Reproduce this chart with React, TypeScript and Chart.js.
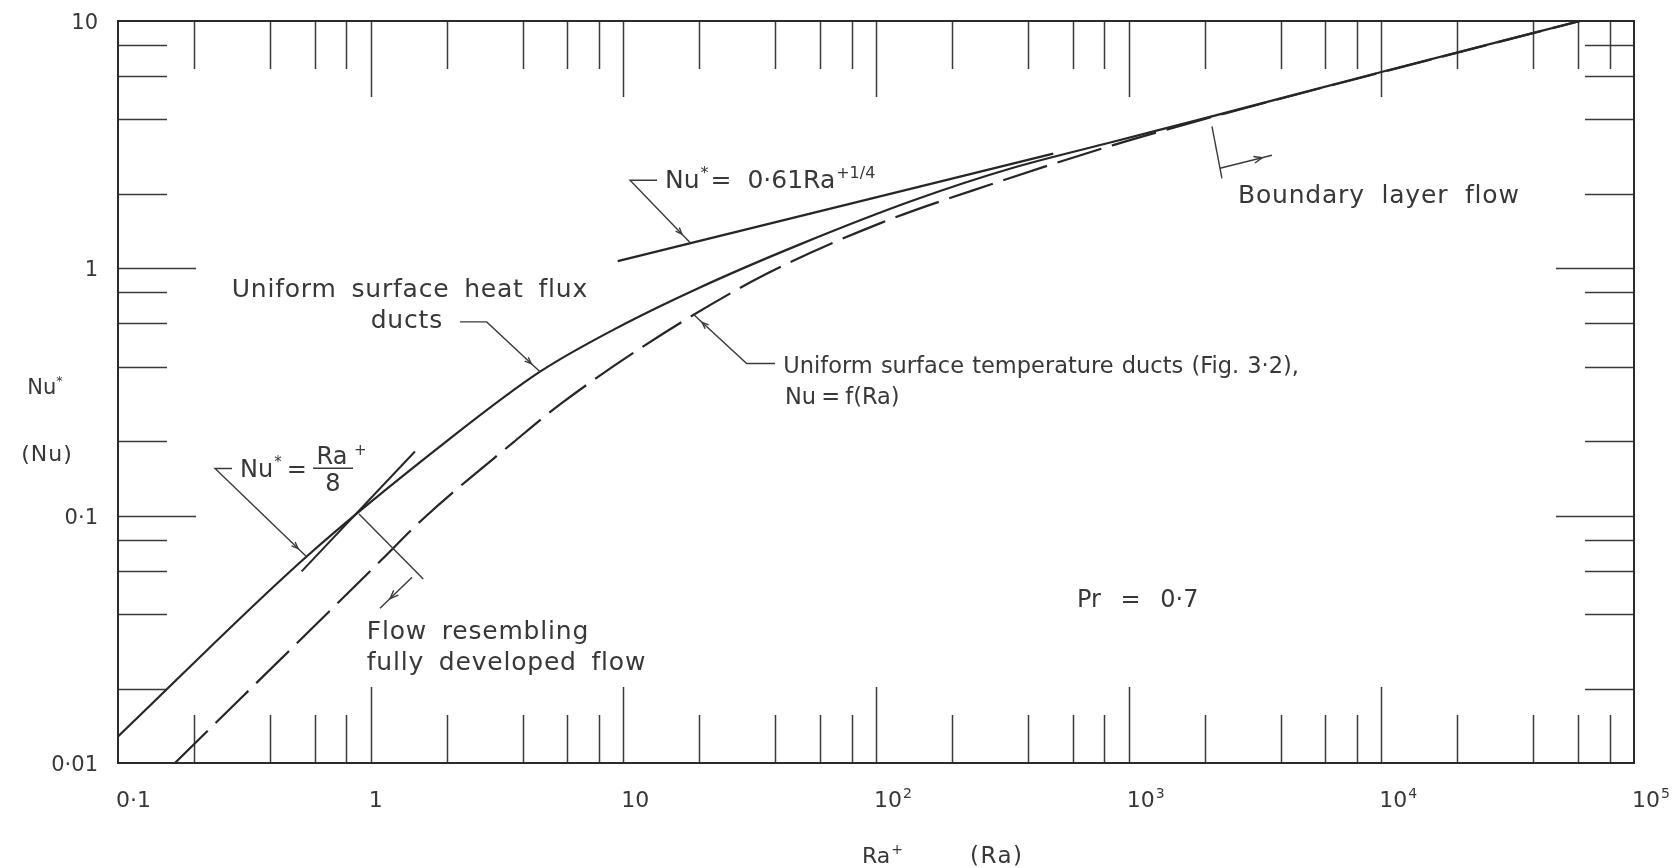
import React, { useEffect, useRef } from 'react';
import { Chart, registerables } from 'chart.js';

Chart.register(...registerables);

// ---------------- data ----------------
// Uniform surface heat flux ducts (solid curve)
const heatFluxRa = [0.1, 0.558, 2.03, 4.68, 9.12, 20, 50, 140, 349, 869, 1972, 10000, 61200];
const heatFluxNu = [0.0128, 0.0684, 0.2025, 0.382, 0.564, 0.835, 1.25, 1.88, 2.55, 3.25, 4.03, 6.22, 10];
// Uniform surface temperature ducts (dashed curve)
const tempRa = [0.168, 1.1, 1.61, 3.67, 5.7, 14.4, 36.9, 103.6, 291, 869, 1972, 10000, 61200];
const tempNu = [0.01, 0.066, 0.097, 0.198, 0.285, 0.545, 0.95, 1.52, 2.2, 3.15, 4.0, 6.2, 10];
// Nu* = 0.61 Ra*^(1/4) asymptote segment
const blRa = [9.5, 503];
const blNu = [1.07, 2.91];
// Nu* = Ra*/8 asymptote segment
const fdRa = [0.533, 1.497];
const fdNu = [0.0595, 0.1817];

// axes
const xMin = 0.1;
const xMax = 100000;
const yMin = 0.01;
const yMax = 10;
const xTickValues = [0.1, 1, 10, 100, 1000, 10000, 100000];
const xTickBase = ['0·1', '1', '10', '10', '10', '10', '10'];
const xTickExp = ['', '', '', '2', '3', '4', '5'];
const yTickValues = [10, 1, 0.1, 0.01];
const yTickLabels = ['10', '1', '0·1', '0·01'];
const minorMultipliers = [2, 4, 6, 8];

// annotation anchors, in data coordinates (Ra, Nu)
const leaderRa14: [number, number][] = [[13.59, 2.271], [10.63, 2.271], [18.4, 1.27]];
const leaderRa8: [number, number][] = [[0.2826, 0.1552], [0.2421, 0.1552], [0.558, 0.0682]];
const leaderHeat: [number, number][] = [[2.258, 0.6074], [2.879, 0.6074], [4.68, 0.3815]];
const leaderTemp: [number, number][] = [[39.83, 0.4125], [30.77, 0.4125], [18.92, 0.652]];
const blTick: [number, number][] = [[2136, 3.753], [2340, 2.313]];
const blArrow: [number, number][] = [[2298, 2.539], [3691, 2.865]];
const fdTick: [number, number][] = [[0.899, 0.1015], [1.615, 0.0554]];
const fdArrow: [number, number][] = [[1.458, 0.0564], [1.089, 0.0422]];

const txtRa14: [number, number] = [14.62, 2.108];
const txtRa8: [number, number] = [0.304, 0.1436];
const txtHeat1: [number, number] = [0.2818, 0.766];
const txtHeat2: [number, number] = [1.933, 0.5712];
const txtTemp1: [number, number] = [42.96, 0.3758];
const txtTemp2: [number, number] = [43.63, 0.2825];
const txtBL: [number, number] = [2707, 1.834];
const txtFD1: [number, number] = [0.9645, 0.0317];
const txtFD2: [number, number] = [0.9645, 0.02376];
const txtPr: [number, number] = [624.6, 0.0427];

// ---------------- drawing helpers ----------------
const FONT = '"DejaVu Sans", "Liberation Sans", sans-serif';
const INK = '#262626';
const TEXT = '#383838';

type Part = { t: string; sup?: boolean; gap?: number };

function setSpacing(ctx: CanvasRenderingContext2D, word: number, letter: number) {
  (ctx as any).wordSpacing = `${word}px`;
  (ctx as any).letterSpacing = `${letter}px`;
}

function drawParts(
  ctx: CanvasRenderingContext2D,
  x: number,
  y: number,
  parts: Part[],
  size: number,
  align: 'left' | 'right' | 'center' = 'left',
  wordSp = 0,
  letterSp = 0
) {
  const segs = parts.map((p) => {
    const s = p.sup ? Math.round(size * 0.62) : size;
    ctx.font = `${s}px ${FONT}`;
    setSpacing(ctx, p.sup ? 0 : wordSp, p.sup ? 0 : letterSp);
    return { ...p, s, w: ctx.measureText(p.t).width };
  });
  const total = segs.reduce((a, b) => a + b.w + (b.gap || 0), 0);
  let cx = align === 'left' ? x : align === 'right' ? x - total : x - total / 2;
  ctx.textAlign = 'left';
  ctx.textBaseline = 'alphabetic';
  for (const p of segs) {
    ctx.font = `${p.s}px ${FONT}`;
    setSpacing(ctx, p.sup ? 0 : wordSp, p.sup ? 0 : letterSp);
    ctx.fillText(p.t, cx, p.sup ? y - size * 0.42 : y);
    cx += p.w + (p.gap || 0);
  }
  setSpacing(ctx, 0, 0);
}

function arrowHead(
  ctx: CanvasRenderingContext2D,
  from: [number, number],
  to: [number, number],
  back: number,
  size: number
) {
  const dx = to[0] - from[0];
  const dy = to[1] - from[1];
  const L = Math.hypot(dx, dy) || 1;
  const ux = dx / L;
  const uy = dy / L;
  const px = to[0] - ux * back;
  const py = to[1] - uy * back;
  const a = 0.38;
  const rot = (ang: number): [number, number] => [
    -(ux * Math.cos(ang) - uy * Math.sin(ang)) * size,
    -(ux * Math.sin(ang) + uy * Math.cos(ang)) * size,
  ];
  const r1 = rot(a);
  const r2 = rot(-a);
  ctx.beginPath();
  ctx.moveTo(px + r1[0], py + r1[1]);
  ctx.lineTo(px, py);
  ctx.lineTo(px + r2[0], py + r2[1]);
  ctx.stroke();
}

const overlay = {
  id: 'overlay',
  beforeDraw(chart: any) {
    const ctx = chart.ctx as CanvasRenderingContext2D;
    ctx.save();
    ctx.fillStyle = '#ffffff';
    ctx.fillRect(0, 0, chart.width, chart.height);
    ctx.restore();
  },
  beforeDatasetsDraw(chart: any) {
    const ctx = chart.ctx as CanvasRenderingContext2D;
    const { left, right, top, bottom } = chart.chartArea;
    const xs = chart.scales.x;
    const ys = chart.scales.y;
    ctx.save();
    ctx.strokeStyle = '#3a3a3a';
    ctx.lineWidth = 1.5;
    const MAJ = 76;
    const MIN = 48;
    // x ticks (top and bottom, inward)
    for (let d = -1; d <= 4; d++) {
      for (const m of [1, ...minorMultipliers]) {
        const v = m * Math.pow(10, d);
        if (v <= xMin * 1.0001 || v >= xMax * 0.9999) continue;
        const px = Math.round(xs.getPixelForValue(v)) + 0.5;
        const len = m === 1 ? MAJ : MIN;
        ctx.beginPath();
        ctx.moveTo(px, bottom);
        ctx.lineTo(px, bottom - len);
        ctx.moveTo(px, top);
        ctx.lineTo(px, top + len);
        ctx.stroke();
      }
    }
    // y ticks (left and right, inward)
    for (let d = -2; d <= 0; d++) {
      for (const m of [1, ...minorMultipliers]) {
        const v = m * Math.pow(10, d);
        if (v <= yMin * 1.0001 || v >= yMax * 0.9999) continue;
        const py = Math.round(ys.getPixelForValue(v)) + 0.5;
        const len = m === 1 ? MAJ + 2 : MIN + 1;
        ctx.beginPath();
        ctx.moveTo(left, py);
        ctx.lineTo(left + len, py);
        ctx.moveTo(right, py);
        ctx.lineTo(right - len, py);
        ctx.stroke();
      }
    }
    // frame
    ctx.strokeStyle = '#2a2a2a';
    ctx.lineWidth = 2;
    ctx.strokeRect(left, top, right - left, bottom - top);
    ctx.restore();
  },
  afterDraw(chart: any) {
    const ctx = chart.ctx as CanvasRenderingContext2D;
    const { left, bottom } = chart.chartArea;
    const xs = chart.scales.x;
    const ys = chart.scales.y;
    const P = (p: [number, number]): [number, number] => [xs.getPixelForValue(p[0]), ys.getPixelForValue(p[1])];
    ctx.save();
    ctx.fillStyle = TEXT;

    // y tick labels
    for (let i = 0; i < yTickValues.length; i++) {
      const py = ys.getPixelForValue(yTickValues[i]);
      drawParts(ctx, left - 20, py + 8, [{ t: yTickLabels[i] }], 21, 'right');
    }
    // x tick labels
    for (let i = 0; i < xTickValues.length; i++) {
      const px = xs.getPixelForValue(xTickValues[i]);
      const parts: Part[] = [{ t: xTickBase[i], gap: 1 }];
      if (xTickExp[i]) parts.push({ t: xTickExp[i], sup: true });
      drawParts(ctx, px - 2, bottom + 44, parts, 22, 'left');
    }
    // axis titles
    drawParts(ctx, 45, 394, [{ t: 'Nu' }, { t: '*', sup: true }], 21, 'center');
    drawParts(ctx, 47, 461, [{ t: '(Nu)' }], 22, 'center', 0, 1);
    drawParts(ctx, 862, bottom + 100, [{ t: 'Ra', gap: 1 }, { t: '+', sup: true }], 22, 'left');
    drawParts(ctx, 970, bottom + 100, [{ t: '(Ra)' }], 23, 'left', 0, 1.5);

    // leader lines & arrows
    ctx.strokeStyle = '#3a3a3a';
    ctx.lineWidth = 1.4;
    const poly = (pts: [number, number][]) => {
      ctx.beginPath();
      pts.forEach((p, i) => {
        const q = P(p);
        if (i === 0) ctx.moveTo(q[0], q[1]);
        else ctx.lineTo(q[0], q[1]);
      });
      ctx.stroke();
    };
    for (const L of [leaderRa14, leaderRa8, leaderHeat, leaderTemp]) {
      poly(L);
      arrowHead(ctx, P(L[1]), P(L[2]), 12, 7);
    }
    poly(blTick);
    poly(blArrow);
    arrowHead(ctx, P(blArrow[0]), P(blArrow[1]), 10, 9);
    poly(fdTick);
    poly(fdArrow);
    arrowHead(ctx, P(fdArrow[0]), P(fdArrow[1]), 14, 9);

    // annotation texts
    let q = P(txtRa14);
    drawParts(ctx, q[0], q[1], [
      { t: 'Nu', gap: 1 },
      { t: '*', sup: true, gap: 2 },
      { t: '=  0·61Ra', gap: 1 },
      { t: '+1/4', sup: true },
    ], 25, 'left');

    q = P(txtRa8);
    drawParts(ctx, q[0], q[1], [{ t: 'Nu', gap: 1 }, { t: '*', sup: true, gap: 5 }, { t: '=' }], 24, 'left');
    // fraction Ra+/8
    {
      const bx0 = q[0] + 73;
      const bx1 = q[0] + 113;
      const by = q[1] - 8.5;
      ctx.beginPath();
      ctx.moveTo(bx0, by);
      ctx.lineTo(bx1, by);
      ctx.lineWidth = 1.6;
      ctx.stroke();
      drawParts(ctx, (bx0 + bx1) / 2 - 1, by - 4, [{ t: 'Ra' }], 24, 'center');
      drawParts(ctx, bx1 + 1, by - 3, [{ t: '+', sup: true }], 24, 'left');
      drawParts(ctx, (bx0 + bx1) / 2, by + 23, [{ t: '8' }], 24, 'center');
    }

    q = P(txtHeat1);
    drawParts(ctx, q[0], q[1], [{ t: 'Uniform surface heat flux' }], 25, 'left', 6, 0.8);
    q = P(txtHeat2);
    drawParts(ctx, q[0], q[1], [{ t: 'ducts' }], 25, 'right', 0, 0.8);

    q = P(txtTemp1);
    drawParts(ctx, q[0], q[1], [{ t: 'Uniform surface temperature ducts (Fig. 3·2),' }], 22.5, 'left', 1, 0);
    q = P(txtTemp2);
    drawParts(ctx, q[0], q[1], [{ t: 'Nu = f(Ra)' }], 22.5, 'left', -2, 0);

    q = P(txtBL);
    drawParts(ctx, q[0], q[1], [{ t: 'Boundary layer flow' }], 25, 'left', 8, 0.8);

    q = P(txtFD1);
    drawParts(ctx, q[0], q[1], [{ t: 'Flow resembling' }], 25, 'left', 6, 0.8);
    q = P(txtFD2);
    drawParts(ctx, q[0], q[1], [{ t: 'fully developed flow' }], 25, 'left', 6, 0.8);

    q = P(txtPr);
    drawParts(ctx, q[0], q[1], [{ t: 'Pr = 0·7' }], 24, 'left', 12, 0);

    ctx.restore();
  },
};

const toPoints = (xs: number[], ys: number[]) => xs.map((x, i) => ({ x, y: ys[i] }));

export default function App() {
  const ref = useRef<HTMLCanvasElement>(null);
  useEffect(() => {
    const canvas = ref.current;
    if (!canvas) return;
    const chart = new Chart(canvas, {
      type: 'scatter',
      data: {
        datasets: [
          {
            label: 'Uniform surface heat flux ducts',
            data: toPoints(heatFluxRa, heatFluxNu),
            showLine: true,
            borderColor: INK,
            borderWidth: 2.2,
            pointRadius: 0,
            cubicInterpolationMode: 'monotone',
            fill: false,
          },
          {
            label: 'Uniform surface temperature ducts',
            data: toPoints(tempRa, tempNu),
            showLine: true,
            borderColor: INK,
            borderWidth: 2.2,
            borderDash: [46, 11],
            pointRadius: 0,
            cubicInterpolationMode: 'monotone',
            fill: false,
          },
          {
            label: 'Nu* = 0.61 Ra*^1/4',
            data: toPoints(blRa, blNu),
            showLine: true,
            borderColor: INK,
            borderWidth: 2.2,
            pointRadius: 0,
            fill: false,
          },
          {
            label: 'Nu* = Ra*/8',
            data: toPoints(fdRa, fdNu),
            showLine: true,
            borderColor: INK,
            borderWidth: 2,
            pointRadius: 0,
            fill: false,
          },
        ],
      },
      options: {
        animation: false,
        responsive: false,
        devicePixelRatio: 1,
        layout: { padding: { left: 118, top: 21, right: 38, bottom: 105 } },
        plugins: {
          legend: { display: false },
          tooltip: { enabled: false },
        },
        scales: {
          x: { type: 'logarithmic', min: xMin, max: xMax, display: false },
          y: { type: 'logarithmic', min: yMin, max: yMax, display: false },
        },
      },
      plugins: [overlay],
    } as any);
    return () => chart.destroy();
  }, []);
  return (
    <div style={{ position: 'absolute', left: 0, top: 0, width: 1672, height: 868, background: '#fff' }}>
      <canvas ref={ref} width={1672} height={868} style={{ display: 'block', width: 1672, height: 868 }} />
    </div>
  );
}
